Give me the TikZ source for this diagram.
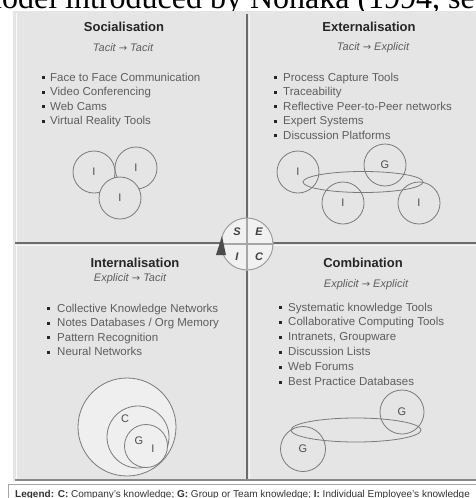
\documentclass[tikz,border=0pt]{standalone}
\usepackage{fontspec}
\setmainfont{Liberation Sans}
\newfontfamily\serifface{Liberation Serif}
\newfontfamily\arrowface{DejaVu Sans}
\newcommand\seciarrow{{\arrowface\upshape\fontsize{10}{10}\selectfont →}}
\usetikzlibrary{shapes.geometric}

\definecolor{panelbg}{HTML}{E5E5E5}
\definecolor{rulegray}{HTML}{6C6C6C}
\definecolor{itemgray}{HTML}{5E5E5E}
\definecolor{ringgray}{HTML}{7A7A7A}

\tikzset{
  qtitle/.style={inner sep=0, text=black!85, font=\fontsize{13}{15}\selectfont\bfseries},
  qsub/.style={inner sep=0, text=itemgray, font=\fontsize{11}{13}\selectfont\itshape},
  qitem/.style={anchor=base west, inner sep=0, text=itemgray, font=\fontsize{11.5}{14}\selectfont},
  bulletsq/.style={rectangle, fill=black!85, minimum size=3pt, inner sep=0},
  kring/.style={circle, draw=ringgray, line width=0.8pt, minimum size=42pt, inner sep=0,
                text=black!70, font=\fontsize{11}{11}\selectfont},
  kloop/.style={ellipse, draw=ringgray, line width=0.8pt, inner sep=0},
  ringletter/.style={inner sep=0, text=black!70, font=\fontsize{11}{11}\selectfont},
  wheelletter/.style={inner sep=0, text=black!75, font=\fontsize{11}{11}\selectfont\bfseries\itshape},
}

\begin{document}
\begin{tikzpicture}[x=1pt,y=-1pt]
\useasboundingbox (0,0) rectangle (476,498);
\clip (0,0) rectangle (476,498);
\fill[white] (0,0) rectangle (476,498);

% running text line above the figure
\node[anchor=base west, inner sep=0, font=\serifface\fontsize{32}{32}\selectfont] (runtext) at (-23,8) {model introduced by Nonaka (1994, see};

% panel and quadrant rules
\fill[panelbg] (13,11) rectangle (476,481);
\draw[white!75!panelbg, line width=1.2pt] (16.5,13) -- (16.5,479);
\draw[white!70!panelbg, line width=1pt] (15,245.5) -- (476,245.5);
\draw[white!70!panelbg, line width=1pt] (249.5,14) -- (249.5,479);
\draw[rulegray, line width=2pt] (15,243) -- (476,243);
\draw[rulegray, line width=2pt] (247,14) -- (247,481);
\draw[rulegray!80, line width=1.6pt] (15,480) -- (476,480);

% legend strip
\draw[fill=white, draw=black!35, line width=0.8pt] (8,484) rectangle (482,504);
\node[anchor=base west, inner sep=0, text=black!80, font=\fontsize{10}{10}\selectfont] (legend) at (15,497)
  {\textbf{Legend:} \textbf{C:} Company's knowledge; \textbf{G:} Group or Team knowledge; \textbf{I:} Individual Employee's knowledge};

% ---------- Socialisation ----------
\node[qtitle] (soc) at (124,27) {Socialisation};
\node[qsub] (socsub) at (123,48) {Tacit \seciarrow{} Tacit};
\foreach \t [count=\k] in {Face to Face Communication, Video Conferencing, Web Cams, Virtual Reality Tools} {
  \node[qitem] (soc-\k) at (50,{81+14.5*(\k-1)}) {\t};
  \node[bulletsq] (soc-b\k) at (43.5,{77.5+14.5*(\k-1)}) {};
}
\node[kring, fill=panelbg] (soc-i1) at (94,172) {I};
\node[kring, fill=panelbg] (soc-i2) at (136,168) {I};
\node[kring, fill=panelbg] (soc-i3) at (120,198) {I};

% ---------- Externalisation ----------
\node[qtitle] (ext) at (369,27) {Externalisation};
\node[qsub] (extsub) at (373,48) {Tacit \seciarrow{} Explicit};
\foreach \t [count=\k] in {Process Capture Tools, Traceability, Reflective Peer-to-Peer networks, Expert Systems, Discussion Platforms} {
  \node[qitem] (ext-\k) at (283,{81+14.5*(\k-1)}) {\t};
  \node[bulletsq] (ext-b\k) at (275.5,{77.5+14.5*(\k-1)}) {};
}
\node[kring] (ext-i1) at (298,172) {I};
\node[kring] (ext-g) at (385,165) {G};
\node[kring] (ext-i2) at (343,203) {I};
\node[kring] (ext-i3) at (419,203) {I};
\node[kloop, minimum width=120pt, minimum height=21pt] (ext-loop) at (363,182) {};

% ---------- Internalisation ----------
\node[qtitle] (int) at (135,263) {Internalisation};
\node[qsub] (intsub) at (130,279) {Explicit \seciarrow{} Tacit};
\foreach \t [count=\k] in {Collective Knowledge Networks, Notes Databases / Org Memory, Pattern Recognition, Neural Networks} {
  \node[qitem] (int-\k) at (57,{312+14.5*(\k-1)}) {\t};
  \node[bulletsq] (int-b\k) at (48.5,{308.5+14.5*(\k-1)}) {};
}
\node[kring, fill=white!40!panelbg, minimum size=98pt] (int-c) at (127,427) {};
\node[kring, fill=white!40!panelbg, minimum size=62pt] (int-g) at (138,437) {};
\node[kring, fill=white!40!panelbg, minimum size=43pt] (int-i) at (146,446) {};
\node[ringletter] (int-cl) at (125,419) {C};
\node[ringletter] (int-gl) at (139,441) {G};
\node[ringletter] (int-il) at (153,449) {I};

% ---------- Combination ----------
\node[qtitle] (com) at (363,263) {Combination};
\node[qsub] (comsub) at (366,285) {Explicit \seciarrow{} Explicit};
\foreach \t [count=\k] in {Systematic knowledge Tools, Collaborative Computing Tools, {Intranets, Groupware}, Discussion Lists, Web Forums, Best Practice Databases} {
  \node[qitem] (com-\k) at (288,{311+14.9*(\k-1)}) {\t};
  \node[bulletsq] (com-b\k) at (280.5,{307.5+14.9*(\k-1)}) {};
}
\node[kring, minimum size=44pt] (com-g1) at (402,412) {G};
\node[kring, minimum size=45pt] (com-g2) at (303,449) {G};
\node[kloop, minimum width=130pt, minimum height=24pt] (com-loop) at (356,430) {};

% ---------- SECI wheel ----------
\node[circle, draw=black!38, fill=white!45!panelbg, line width=1pt, minimum size=52pt, inner sep=0] (wheel) at (247,244) {};
\draw[black!35, line width=1.2pt] (wheel.north) -- (wheel.south);
\draw[black!35, line width=1.2pt] (wheel.west) -- (wheel.east);
\node[wheelletter] (wS) at (237,232) {S};
\node[wheelletter] (wE) at (259,232) {E};
\node[wheelletter] (wI) at (237,257) {I};
\node[wheelletter] (wC) at (259,257) {C};
\fill[black!70] (216,255) -- (226,255) -- (222,236) -- cycle;

\end{tikzpicture}
\end{document}
